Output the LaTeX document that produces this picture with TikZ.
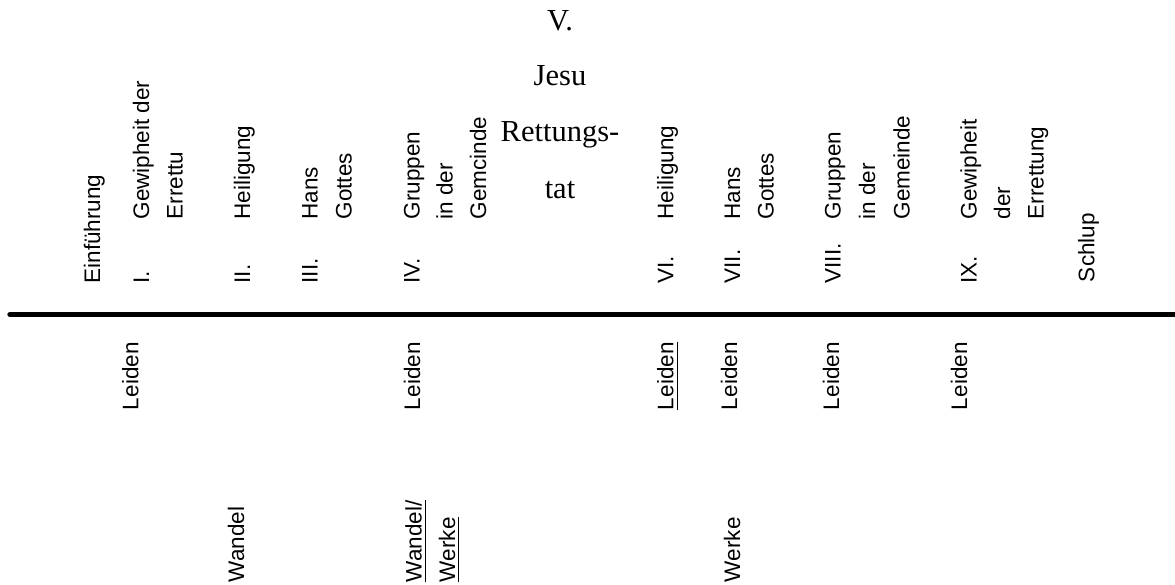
\documentclass[tikz,border=0pt]{standalone}
\usepackage{fontspec}
\newfontfamily\arialf{Liberation Sans}
\newfontfamily\timesf{Liberation Serif}
\usetikzlibrary{calc}
\tikzset{
 vlab/.style={font=\arialf\fontsize{22.5}{27}\selectfont, rotate=90, anchor=base west, inner sep=0pt, outer sep=0pt},
 tlab/.style={font=\timesf\fontsize{30.5}{36}\selectfont, anchor=base, inner sep=0pt},
 uline/.style={line width=1.2pt},
 rulestroke/.style={line width=5.6pt, line cap=round}
}
\begin{document}
\begin{tikzpicture}[x=1pt,y=-1pt]
\useasboundingbox (0,0) rectangle (1175,584);
% top labels
\node[vlab] (intro) at (100,283.4) {Einführung};
\node[vlab] (n1) at (149,283.4) {I.};
\node[vlab] (n1a) at (149,219.4) {Gewipheit der};
\node[vlab] (n1b) at (182.5,219.4) {Errettu};
\node[vlab] (n2) at (250,283.4) {II.};
\node[vlab] (n2a) at (250,219.4) {Heiligung};
\node[vlab] (n3) at (317.7,283.4) {III.};
\node[vlab] (n3a) at (317.7,219.4) {Hans};
\node[vlab] (n3b) at (351.5,219.4) {Gottes};
\node[vlab] (n4) at (419.5,283.4) {IV.};
\node[vlab] (n4a) at (419.5,219.4) {Gruppen};
\node[vlab] (n4b) at (452.5,219.4) {in der};
\node[vlab] (n4c) at (486,219.4) {Gemcinde};
\node[tlab] (v1) at (560,30) {V.};
\node[tlab] (v2) at (560,85.5) {Jesu};
\node[tlab] (v3) at (560,141.7) {Rettungs-};
\node[tlab] (v4) at (560,198.3) {tat};
\node[vlab] (n6) at (673.3,283.4) {VI.};
\node[vlab] (n6a) at (673.3,219.4) {Heiligung};
\node[vlab] (n7) at (740,283.4) {VII.};
\node[vlab] (n7a) at (740,219.4) {Hans};
\node[vlab] (n7b) at (773.5,219.4) {Gottes};
\node[vlab] (n8) at (840.7,283.4) {VIII.};
\node[vlab] (n8a) at (840.7,219.4) {Gruppen};
\node[vlab] (n8b) at (875,219.4) {in der};
\node[vlab] (n8c) at (909.5,219.4) {Gemeinde};
\node[vlab] (n9) at (976.7,283.4) {IX.};
\node[vlab] (n9a) at (976.7,219.4) {Gewipheit};
\node[vlab] (n9b) at (1010.2,219.4) {der};
\node[vlab] (n9c) at (1043.5,219.4) {Errettung};
\node[vlab] (schl) at (1094.3,282) {Schlup};
% rule
\coordinate (ruleL) at (10.1,314.5);
\coordinate (ruleR) at (1182,314.5);
\draw[rulestroke] (ruleL) -- (ruleR);
% Leiden row
\node[vlab] (L1) at (138.3,410) {Leiden};
\node[vlab] (L2) at (420,410) {Leiden};
\node[vlab] (L3) at (673.3,410) {Leiden};
\node[vlab] (L4) at (737,410) {Leiden};
\node[vlab] (L5) at (839,410) {Leiden};
\node[vlab] (L6) at (967,410) {Leiden};
\draw[uline] ($(L3.base west)+(3.8,0)$) -- ($(L3.base east)+(3.8,0)$);
% bottom row
\node[vlab] (W1) at (244,582) {Wandel};
\node[vlab] (W2) at (421.7,582) {Wandel/};
\node[vlab] (W3) at (455,582) {Werke};
\node[vlab] (W4) at (740,582) {Werke};
\draw[uline] ($(W2.base west)+(3.4,0)$) -- ($(W2.base east)+(3.4,0)$);
\draw[uline] ($(W3.base west)+(3.4,0)$) -- ($(W3.base east)+(3.4,0)$);
\end{tikzpicture}
\end{document}
